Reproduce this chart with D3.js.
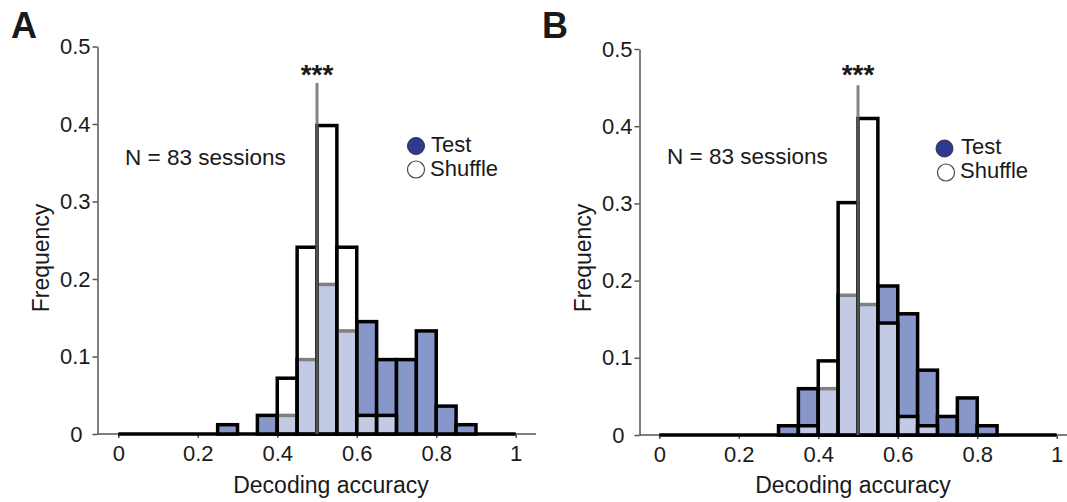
<!DOCTYPE html>
<html>
<head>
<meta charset="utf-8">
<script src="https://cdn.jsdelivr.net/npm/d3@7/dist/d3.min.js"></script>
<style>
  body { margin: 0; background: #fff; }
  svg text { font-family: "Liberation Sans", Arial, sans-serif; fill: #1a1a1a; }
</style>
</head>
<body>
<div id="container-div"></div>
<script>
// bin left edges (width 0.05)
var binStarts = [0, 0.05, 0.1, 0.15, 0.2, 0.25, 0.3, 0.35, 0.4, 0.45,
                 0.5, 0.55, 0.6, 0.65, 0.7, 0.75, 0.8, 0.85, 0.9, 0.95];
var binWidth = 0.05;

// panel A frequencies
var testA    = [0, 0, 0, 0, 0, 0.012, 0, 0.024, 0.024, 0.096,
                0.193, 0.133, 0.145, 0.096, 0.096, 0.133, 0.036, 0.012, 0, 0];
var shuffleA = [0, 0, 0, 0, 0, 0, 0, 0, 0.072, 0.241,
                0.398, 0.241, 0.024, 0.024, 0, 0, 0, 0, 0, 0];

// panel B frequencies
var testB    = [0, 0, 0, 0, 0, 0, 0.012, 0.060, 0.060, 0.181,
                0.169, 0.193, 0.157, 0.084, 0.024, 0.048, 0.012, 0, 0, 0];
var shuffleB = [0, 0, 0, 0, 0, 0, 0, 0.012, 0.096, 0.301,
                0.410, 0.145, 0.024, 0.012, 0, 0, 0, 0, 0, 0];

var yTicks = [0, 0.1, 0.2, 0.3, 0.4, 0.5];
var xTicks = [0, 0.2, 0.4, 0.6, 0.8, 1];
var chanceLevel = 0.5;
var chanceTop = 0.453;
var nText = "N = 83 sessions";
var legendLabels = ["Test", "Shuffle"];

var testColor = "#8797c9";
var legendBlue = "#2e3a8f";

let viz = d3.select("#container-div").append("svg")
    .attr("width", 1067)
    .attr("height", 502)
    .attr("id", "viz");

function fmt(d) {
    if (d === 0) return "0";
    if (d === 1) return "1";
    return d3.format(".1f")(d);
}

function drawPanel(p) {
    var x = d3.scaleLinear().domain([0, 1]).range([p.x0, p.x1]);
    var y = d3.scaleLinear().domain([0, 0.5]).range([p.yBase, p.yTop]);
    var g = viz.append("g");

    // x axis line (extends past 1)
    g.append("line")
        .attr("x1", p.axisX).attr("x2", p.xEnd)
        .attr("y1", p.yBase).attr("y2", p.yBase)
        .attr("stroke", "#555").attr("stroke-width", 1.5);

    var xa = g.append("g")
        .attr("transform", "translate(0," + p.yBase + ")")
        .call(d3.axisBottom(x).tickValues(xTicks).tickFormat(fmt)
            .tickSize(4).tickSizeOuter(0).tickPadding(8));
    xa.select(".domain").remove();
    xa.selectAll("line").attr("stroke", "#555").attr("stroke-width", 1.5);
    xa.selectAll("text").style("font-size", "22px").attr("fill", "#222")
        .attr("dy", "0.71em").attr("y", 11);

    var ya = g.append("g")
        .attr("transform", "translate(" + p.axisX + ",0)")
        .call(d3.axisLeft(y).tickValues(yTicks).tickFormat(fmt)
            .tickSize(5).tickSizeOuter(0).tickPadding(2));
    ya.select(".domain").attr("stroke", "#555").attr("stroke-width", 1.5);
    ya.selectAll("line").attr("stroke", "#555").attr("stroke-width", 1.5);
    ya.selectAll("text").style("font-size", "22px").attr("fill", "#222")
        .attr("dx", function(d) { return d === 0 ? -8 : 0; });

    var rows = binStarts.map(function(b, i) {
        return { start: b, test: p.test[i], shuffle: p.shuffle[i] };
    });

    // empty bins show as a thick black base from 0 to 1
    g.append("line")
        .attr("x1", x(binStarts[0]))
        .attr("x2", x(binStarts[binStarts.length - 1] + binWidth))
        .attr("y1", y(0)).attr("y2", y(0))
        .attr("stroke", "black").attr("stroke-width", 3.5);

    // test bars
    g.selectAll("rect.test").data(rows.filter(function(d) { return d.test > 0; })).enter()
        .append("rect")
        .attr("class", "test")
        .attr("x", function(d) { return x(d.start); })
        .attr("width", function(d) { return x(d.start + binWidth) - x(d.start); })
        .attr("y", function(d) { return y(d.test); })
        .attr("height", function(d) { return y(0) - y(d.test); })
        .attr("fill", testColor)
        .attr("stroke", "black")
        .attr("stroke-width", 3.5);

    // shuffle bars, half transparent white on top
    g.selectAll("rect.shuffle").data(rows.filter(function(d) { return d.shuffle > 0; })).enter()
        .append("rect")
        .attr("class", "shuffle")
        .attr("x", function(d) { return x(d.start); })
        .attr("width", function(d) { return x(d.start + binWidth) - x(d.start); })
        .attr("y", function(d) { return y(d.shuffle); })
        .attr("height", function(d) { return y(0) - y(d.shuffle); })
        .attr("fill", "white")
        .attr("fill-opacity", 0.5)
        .attr("stroke", "black")
        .attr("stroke-width", 3.5);

    // chance line
    g.append("line")
        .attr("x1", x(chanceLevel)).attr("x2", x(chanceLevel))
        .attr("y1", y(0)).attr("y2", y(chanceTop))
        .attr("stroke", "#666").attr("stroke-opacity", 0.8)
        .attr("stroke-width", 3);

    g.append("text")
        .attr("x", x(chanceLevel)).attr("y", 84)
        .attr("text-anchor", "middle")
        .style("font-size", "28px").style("font-weight", "bold")
        .text("***");

    g.append("text")
        .attr("x", p.nx).attr("y", p.ny)
        .style("font-size", "22.5px")
        .text(nText);

    // legend
    g.append("circle").attr("cx", p.leg[0][0]).attr("cy", p.leg[0][1]).attr("r", 8.5)
        .attr("fill", legendBlue).attr("stroke", "#333").attr("stroke-width", 1);
    g.append("circle").attr("cx", p.leg[1][0]).attr("cy", p.leg[1][1]).attr("r", 8.5)
        .attr("fill", "white").attr("stroke", "#444").attr("stroke-width", 1.2);
    g.append("text").attr("x", p.legText[0][0]).attr("y", p.legText[0][1])
        .style("font-size", "22px").text(legendLabels[0]);
    g.append("text").attr("x", p.legText[1][0]).attr("y", p.legText[1][1])
        .style("font-size", "22px").text(legendLabels[1]);

    // axis titles
    g.append("text")
        .attr("x", p.xLabelX).attr("y", 493)
        .attr("text-anchor", "middle")
        .style("font-size", "23px")
        .text("Decoding accuracy");
    g.append("text")
        .attr("transform", "translate(" + p.yLabelX + ",258) rotate(-90)")
        .attr("text-anchor", "middle")
        .style("font-size", "23px")
        .text("Frequency");

    // panel letter
    g.append("text")
        .attr("x", p.letterX).attr("y", 38)
        .style("font-size", "36px").style("font-weight", "bold")
        .attr("fill", "#000")
        .text(p.letter);
}

drawPanel({
    letter: "A", letterX: 11,
    test: testA, shuffle: shuffleA,
    axisX: 97.5, x0: 118.3, x1: 515.7, xEnd: 536,
    yBase: 434, yTop: 46.5,
    nx: 125, ny: 165,
    leg: [[416, 146], [416, 169.5]],
    legText: [[431, 151.5], [430, 175.5]],
    xLabelX: 331, yLabelX: 49
});

drawPanel({
    letter: "B", letterX: 542,
    test: testB, shuffle: shuffleB,
    axisX: 639.5, x0: 659.3, x1: 1056.7, xEnd: 1067,
    yBase: 435, yTop: 49,
    nx: 667, ny: 163.5,
    leg: [[944.5, 148.5], [946, 172.5]],
    legText: [[961, 154], [960, 178]],
    xLabelX: 853, yLabelX: 591
});
</script>
</body>
</html>
